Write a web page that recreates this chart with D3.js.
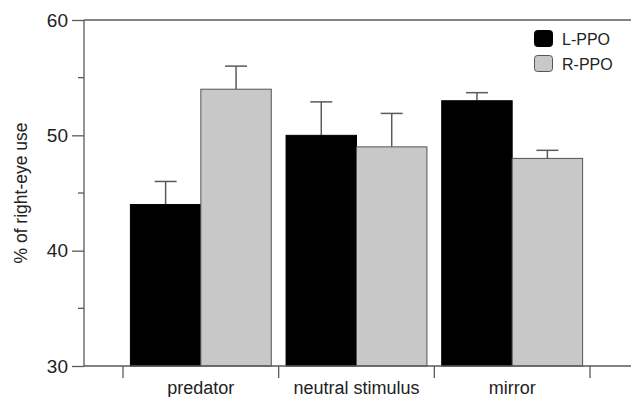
<!DOCTYPE html>
<html>
<head>
<meta charset="utf-8">
<script src="https://cdn.jsdelivr.net/npm/d3@7"></script>
<style>
  body { margin: 0; background: #fff; }
  svg { display: block; font-family: 'Liberation Sans', Arial, sans-serif; }
</style>
</head>
<body>
<div id="chart"></div>
<script>
// values
const categories = ['predator', 'neutral stimulus', 'mirror'];
const seriesNames = ['L-PPO', 'R-PPO'];
const lppoValues = [44, 50, 53];
const rppoValues = [54, 49, 48];
const lppoErrors = [2.0, 2.9, 0.7];
const rppoErrors = [2.0, 2.9, 0.7];
const yTicks = [30, 40, 50, 60];
const yMinorTicks = [35, 45, 55];

const WIDTH = 631;
const HEIGHT = 397;
const AXIS_COLOR = '#5a5a5a';
const TEXT_COLOR = '#222';
const fills = { 'L-PPO': '#000', 'R-PPO': '#c8c8c8' };

const rows = categories.map((c, i) => ({
	category: c,
	bars: [
		{ series: 'L-PPO', value: lppoValues[i], err: lppoErrors[i] },
		{ series: 'R-PPO', value: rppoValues[i], err: rppoErrors[i] }
	]
}));

const svg = d3.select('#chart')
	.append('svg')
	.attr('width', WIDTH)
	.attr('height', HEIGHT);

const y = d3.scaleLinear().domain([30, 60]).range([366, 20]);
const x = d3.scaleBand().domain(categories).range([123, 590]).padding(0);
const xInner = d3.scaleBand().domain(seriesNames).range([0, x.bandwidth()])
	.paddingInner(0).paddingOuter(0.105);

const axisLeftX = 84;

// bars
const group = svg.append('g')
	.selectAll('g')
	.data(rows)
	.join('g')
	.attr('transform', d => `translate(${x(d.category)},0)`);

// error bars first so bars sit over the stem base
group.selectAll('g.err')
	.data(d => d.bars)
	.join('g')
	.attr('class', 'err')
	.each(function(d) {
		const cx = xInner(d.series) + xInner.bandwidth() / 2;
		const g = d3.select(this);
		g.append('line')
			.attr('x1', cx).attr('x2', cx)
			.attr('y1', y(d.value)).attr('y2', y(d.value + d.err))
			.attr('stroke', AXIS_COLOR).attr('stroke-width', 1.5);
		g.append('line')
			.attr('x1', cx - 11).attr('x2', cx + 11)
			.attr('y1', y(d.value + d.err)).attr('y2', y(d.value + d.err))
			.attr('stroke', AXIS_COLOR).attr('stroke-width', 1.5);
	});

group.selectAll('rect')
	.data(d => d.bars)
	.join('rect')
	.attr('x', d => xInner(d.series))
	.attr('width', xInner.bandwidth())
	.attr('y', d => y(d.value))
	.attr('height', d => y(30) - y(d.value))
	.attr('fill', d => fills[d.series])
	.attr('stroke', d => d.series === 'L-PPO' ? '#000' : '#555')
	.attr('stroke-width', 1);

// y axis
const yAxis = svg.append('g').attr('transform', `translate(${axisLeftX},0)`);
yAxis.call(d3.axisLeft(y).tickValues(yTicks).tickSize(12).tickPadding(4).tickFormat(d3.format('d')));
yAxis.select('.domain').remove();
yAxis.append('line')
	.attr('y1', y(60)).attr('y2', y(30))
	.attr('stroke', AXIS_COLOR).attr('stroke-width', 1.3);
yAxis.selectAll('.tick line').attr('stroke', AXIS_COLOR).attr('stroke-width', 1.3);
yAxis.selectAll('.tick text')
	.attr('fill', TEXT_COLOR)
	.style('font-size', '19px')
	.style('font-family', "'Liberation Sans', Arial, sans-serif");
yAxis.selectAll('.minor')
	.data(yMinorTicks)
	.join('line')
	.attr('class', 'minor')
	.attr('x1', -6).attr('x2', 0)
	.attr('y1', d => y(d)).attr('y2', d => y(d))
	.attr('stroke', AXIS_COLOR).attr('stroke-width', 1.3);

// top line and bottom axis extend to the right edge
svg.append('line')
	.attr('x1', axisLeftX).attr('x2', WIDTH)
	.attr('y1', y(60)).attr('y2', y(60))
	.attr('stroke', AXIS_COLOR).attr('stroke-width', 1.3);
svg.append('line')
	.attr('x1', axisLeftX).attr('x2', WIDTH)
	.attr('y1', y(30)).attr('y2', y(30))
	.attr('stroke', AXIS_COLOR).attr('stroke-width', 1.3);

// category separators (ticks at band edges)
const edges = categories.map(c => x(c)).concat([x.range()[1]]);
svg.append('g')
	.selectAll('line')
	.data(edges)
	.join('line')
	.attr('x1', d => d).attr('x2', d => d)
	.attr('y1', y(30)).attr('y2', y(30) + 12)
	.attr('stroke', AXIS_COLOR).attr('stroke-width', 1.3);

svg.append('g')
	.selectAll('text')
	.data(categories)
	.join('text')
	.attr('x', d => x(d) + x.bandwidth() / 2)
	.attr('y', 394)
	.attr('text-anchor', 'middle')
	.attr('fill', TEXT_COLOR)
	.style('font-size', '18px')
	.text(d => d);

// y label
svg.append('text')
	.attr('transform', `translate(27,${(y(60) + y(30)) / 2}) rotate(-90)`)
	.attr('text-anchor', 'middle')
	.attr('fill', TEXT_COLOR)
	.style('font-size', '17.5px')
	.text('% of right-eye use');

// legend
const legend = svg.append('g')
	.selectAll('g')
	.data(seriesNames)
	.join('g')
	.attr('transform', (d, i) => `translate(534,${30 + i * 25})`);
legend.append('rect')
	.attr('x', 0.5).attr('y', 0.5)
	.attr('width', 18).attr('height', 16)
	.attr('rx', 3)
	.attr('fill', d => fills[d])
	.attr('stroke', d => d === 'L-PPO' ? '#000' : '#555');
legend.append('text')
	.attr('x', 28).attr('y', 15)
	.attr('fill', TEXT_COLOR)
	.style('font-size', '16px')
	.text(d => d);
</script>
</body>
</html>
